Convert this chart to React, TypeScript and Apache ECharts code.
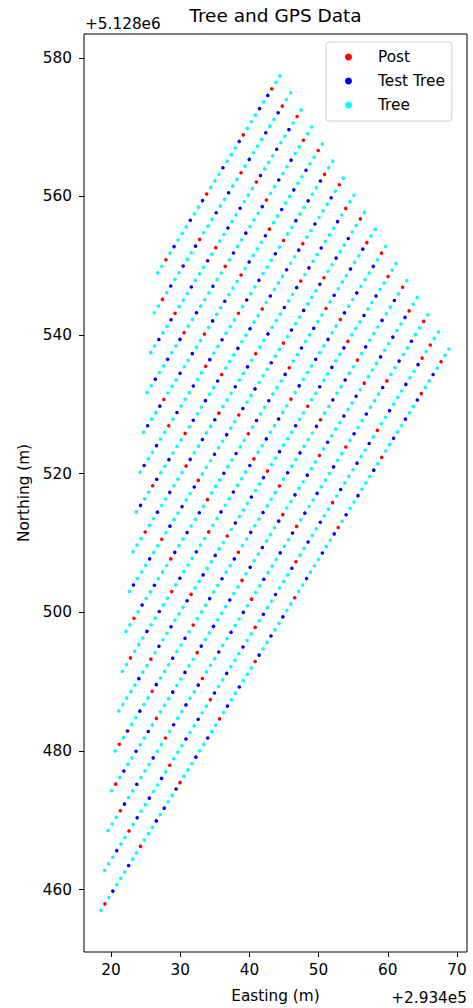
import React, { useEffect, useRef } from "react";
import * as echarts from "echarts";

// Easting / Northing offsets (axis offset texts)
const eastingOffsetLabel = "+2.934e5";
const northingOffsetLabel = "+5.128e6";

// Tick labels
const xTicks = [20, 30, 40, 50, 60, 70];
const yTicks = [460, 480, 500, 520, 540, 560, 580];

// Orchard rows: upper-right end and lower-left end of each row (offset coordinates, m)
const rowTopE = [44.42, 45.95, 47.48, 49.0, 50.53, 52.05, 53.58, 55.11, 56.63, 58.16, 59.69, 61.21, 62.74, 64.26, 65.79, 67.32, 68.84];
const rowTopN = [577.42, 574.96, 572.49, 570.03, 567.57, 565.1, 562.64, 560.18, 557.71, 555.25, 552.79, 550.32, 547.86, 545.4, 542.93, 540.47, 538.0];
const rowEndE = [26.76, 26.25, 25.74, 25.22, 24.71, 24.2, 23.68, 23.17, 22.66, 22.14, 21.63, 21.12, 20.61, 20.09, 19.58, 19.07, 18.55];
const rowEndN = [548.98, 543.23, 537.48, 531.73, 525.98, 520.24, 514.49, 508.74, 503.0, 497.25, 491.51, 485.76, 480.01, 474.27, 468.52, 462.78, 457.03];

// Point sequence along each row, from the upper end: "." tree, "x" test tree, "p" post
const rowMarks = [
  "..px.x...px...x...px..x...x.p..",
  "..px..x...x.p..x..x...px..x..x.p..",
  ".p.x..x...xp...x..x..p.x...x...px..x..",
  "..p..x..x..px...x..x.p..x...x..px..x..x..",
  ".p..x..x..x..px...x.p...x..x.p..x..x...px..x.",
  "..px..x..x..p.x...x..x.p...x..xp..x...x.p..x..x.",
  ".p.x...x..px..x...x.p..x..x...px..x..x.p...x..xp..x.",
  "..p.x...x..x.px..x...x..p.x..x...px..x..xp...x..x..p...",
  ".p..x..x..px...x..x.p..x...x..xp..x..x...px..x..x.p..x...x.",
  "..px..x...x.p..x..x..px...x..x.p..x..x...p.x..x..xp...x..x.p..",
  ".p.x...x..xp..x..x...x.p..x..x..px...x..x..p..x...x.p..x..x...p..",
  "..p..x..x...px..x..x..p..x...x..px..x...x.p..x..x..px...x..x.p..x.....",
  ".p.x..x...x.p..x..x..px...x..x.p...x..x..px..x..x...p.x..x...xp..x..x.p.",
  "..px..x..x...p.x..x...x.p..x..x..px...x..x.p..x...x..xp..x..x...p.x..x..x.p.",
  ".p..x..x..px...x..x.p..x...x..x.px..x...x..p.x..x..x...px..x..x.p..x...x..xp...",
  "..p.px..x...x..p.x..x...x.p..x..x..px...x..x.p..x...x..xp..x..x...p.x..x..x.p..x...",
  "..p.x..px..x..x..p.x...x..x.px..x...x..p..x..x..xp...x..x.p..x..x...px..x.x...p..x...x.p.",
];

const seriesNames = ["Post", "Test Tree", "Tree"];
const seriesColors = ["#ff0000", "#0000ff", "#00ffff"];
const markCodes = ["p", "x", "."];

const FONT = "DejaVu Sans";

function buildSeriesData(code: string): number[][] {
  const out: number[][] = [];
  for (let r = 0; r < rowMarks.length; r++) {
    const marks = rowMarks[r];
    const n = marks.length;
    for (let i = 0; i < n; i++) {
      if (marks[i] !== code) continue;
      const t = i / (n - 1);
      const e = rowTopE[r] + (rowEndE[r] - rowTopE[r]) * t;
      const nn = rowTopN[r] + (rowEndN[r] - rowTopN[r]) * t;
      out.push([e, nn]);
    }
  }
  return out;
}

export default function App() {
  const ref = useRef<HTMLDivElement>(null);
  useEffect(() => {
    if (!ref.current) return;
    const chart = echarts.init(ref.current, undefined, { renderer: "svg" });
    const series = seriesNames.map((name, i) => ({
      name,
      type: "scatter",
      data: buildSeriesData(markCodes[i]),
      symbol: "circle",
      symbolSize: 3.6,
      itemStyle: { color: seriesColors[i], opacity: 1 },
      emphasis: { disabled: true },
    }));
    chart.setOption({
      animation: false,
      textStyle: { fontFamily: FONT },
      title: {
        text: "Tree and GPS Data",
        left: 275.5,
        top: 6,
        textAlign: "center",
        padding: 0,
        textStyle: { fontFamily: FONT, fontSize: 18.5, fontWeight: "normal", color: "#000" },
      },
      legend: {
        data: seriesNames,
        orient: "vertical",
        left: 326,
        top: 42,
        padding: [7, 7, 8, 19],
        itemGap: 8,
        itemWidth: 7,
        itemHeight: 7,
        icon: "circle",
        borderColor: "#d0d0d0",
        borderWidth: 1,
        borderRadius: 3,
        backgroundColor: "rgba(255,255,255,0.8)",
        itemStyle: { opacity: 1 },
        textStyle: { fontFamily: FONT, fontSize: 15.3, color: "#000", lineHeight: 16, padding: [0, 0, 0, 21] },
        selectedMode: false,
      },
      grid: {
        left: 84,
        top: 34,
        width: 383,
        height: 924,
        show: true,
        borderColor: "#000",
        borderWidth: 1,
        backgroundColor: "transparent",
        containLabel: false,
      },
      xAxis: {
        type: "value",
        min: 16.1,
        max: 71.45,
        name: "Easting (m)",
        nameLocation: "middle",
        nameGap: 36,
        nameTextStyle: { fontFamily: FONT, fontSize: 15.3, color: "#000" },
        axisLine: { show: false },
        axisTick: { show: true, inside: false, length: 5, customValues: xTicks, lineStyle: { color: "#000", width: 1 } },
        axisLabel: { customValues: xTicks, margin: 10, fontFamily: FONT, fontSize: 15.3, color: "#000" },
        splitLine: { show: false },
      },
      yAxis: {
        type: "value",
        min: 451.0,
        max: 583.44,
        name: "Northing (m)",
        nameLocation: "middle",
        nameGap: 50,
        nameTextStyle: { fontFamily: FONT, fontSize: 15.3, color: "#000" },
        axisLine: { show: false },
        axisTick: { show: true, inside: false, length: 5, customValues: yTicks, lineStyle: { color: "#000", width: 1 } },
        axisLabel: { customValues: yTicks, margin: 12, fontFamily: FONT, fontSize: 15.3, color: "#000" },
        splitLine: { show: false },
      },
      graphic: [
        {
          type: "text",
          left: 85,
          top: 16,
          style: { text: northingOffsetLabel, fontFamily: FONT, fontSize: 15.3, fill: "#000" },
        },
        {
          type: "text",
          right: 6,
          top: 990,
          style: { text: eastingOffsetLabel, fontFamily: FONT, fontSize: 15.3, fill: "#000" },
        },
      ],
      series,
    });
    return () => chart.dispose();
  }, []);
  return (
    <div
      ref={ref}
      style={{ position: "fixed", left: 0, top: 0, width: 473, height: 1008, background: "#fff" }}
    />
  );
}
